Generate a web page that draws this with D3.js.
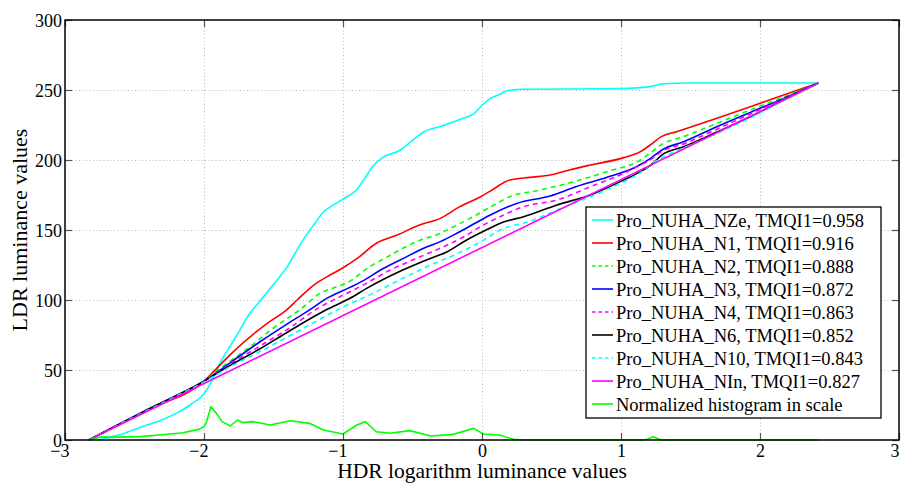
<!DOCTYPE html>
<html><head><meta charset="utf-8">
<script src="https://cdn.jsdelivr.net/npm/d3@7"></script>
<style>
html,body{margin:0;padding:0;background:#fff;}
svg{display:block;}
svg text{font-family:"Liberation Serif","Times New Roman",serif;}
</style></head>
<body><svg id="c" width="901" height="484"></svg>
<script>
// ---- data (x = HDR log luminance, y = LDR luminance) ----
const xTicks = [-3,-2,-1,0,1,2,3];
const yTicks = [0,50,100,150,200,250,300];
const legendLabels = [
  "Pro_NUHA_NZe, TMQI1=0.958",
  "Pro_NUHA_N1, TMQI1=0.916",
  "Pro_NUHA_N2, TMQI1=0.888",
  "Pro_NUHA_N3, TMQI1=0.872",
  "Pro_NUHA_N4, TMQI1=0.863",
  "Pro_NUHA_N6, TMQI1=0.852",
  "Pro_NUHA_N10, TMQI1=0.843",
  "Pro_NUHA_NIn, TMQI1=0.827",
  "Normalized histogram in scale"
];
const curveNZe = [[-2.76,0],[-2.7,1.5],[-2.6,4],[-2.5,7.5],[-2.4,11],[-2.3,14.5],[-2.2,19],[-2.1,25],[-2.0,33],[-1.95,41],[-1.9,52],[-1.85,61],[-1.8,69],[-1.75,77],[-1.7,86],[-1.6,99],[-1.5,111],[-1.4,124],[-1.3,141],[-1.2,155],[-1.14,163],[-1.1,166],[-1.0,172],[-0.9,179],[-0.85,186],[-0.78,196],[-0.71,202],[-0.59,207],[-0.5,214],[-0.42,220],[-0.3,224],[-0.16,229],[-0.06,233],[0.01,240],[0.06,244],[0.13,247],[0.18,249.5],[0.3,250.5],[1.0,251],[1.21,252.4],[1.3,254.5],[1.5,255],[2.42,255]];
const curveN1 = [[-2.83,0],[-2.4,22],[-2.0,42],[-1.91,51],[-1.79,63],[-1.55,83],[-1.405,93],[-1.33,100],[-1.21,110.7],[-1.09,118],[-1.0,123],[-0.9,129.5],[-0.76,140.5],[-0.61,146.4],[-0.45,153.6],[-0.3,158.3],[-0.16,166.7],[-0.01,173.8],[0.06,177.8],[0.2,185.7],[0.345,187.6],[0.49,189.3],[0.63,192.9],[0.78,196.4],[1.02,201.7],[1.14,206],[1.21,210.7],[1.29,216.7],[1.4,220.2],[1.69,229.8],[1.93,238],[2.17,246.4],[2.42,255]];
const curveN2 = [[-2.83,0],[-2.4,22],[-2.0,42],[-1.9,50],[-1.79,58],[-1.69,65],[-1.5,80],[-1.285,95],[-1.165,104.8],[-1.045,109.5],[-0.97,112.4],[-0.806,123.8],[-0.66,132],[-0.47,141.7],[-0.3,147.6],[-0.18,153.6],[-0.04,160.7],[0.08,167.5],[0.2,173.8],[0.42,178.6],[0.66,184.5],[0.9,191.7],[1.14,200],[1.21,205],[1.3,211.5],[1.45,216.7],[1.69,226.2],[1.93,235.7],[2.17,245],[2.42,255]];
const curveN3 = [[-2.83,0],[-2.4,22],[-2.0,42],[-1.8,56],[-1.6,70],[-1.4,83],[-1.24,93],[-1.12,101],[-0.95,109],[-0.85,114],[-0.73,121.4],[-0.54,131],[-0.42,137],[-0.3,141.7],[-0.16,148.8],[-0.01,157],[0.06,160.7],[0.25,169],[0.49,174.3],[0.68,181],[0.9,187.6],[1.11,195.2],[1.21,201],[1.3,207.5],[1.45,213],[1.69,223.8],[1.93,234],[2.17,244],[2.42,255]];
const curveN4 = [[-2.83,0],[-2.4,22],[-2.0,42],[-1.8,55],[-1.6,67],[-1.4,79],[-1.165,95],[-1.02,102.4],[-0.85,111],[-0.66,121.4],[-0.47,129.8],[-0.3,137],[-0.13,145.2],[0.01,153.6],[0.13,159.5],[0.3,166.7],[0.54,171.4],[0.78,181],[1.02,190.5],[1.14,196.4],[1.21,200],[1.3,206.5],[1.45,211.5],[1.69,222],[1.93,232.9],[2.17,243.5],[2.42,255]];
const curveN6 = [[-2.83,0],[-2.4,22],[-2.0,42],[-1.8,54],[-1.6,65],[-1.4,77],[-1.12,93],[-0.95,101.2],[-0.83,108.3],[-0.57,121.4],[-0.4,128.6],[-0.25,134.5],[-0.11,142.9],[0.03,150],[0.15,155.5],[0.3,159.5],[0.54,167.9],[0.78,175],[1.02,185.7],[1.14,191.7],[1.21,196],[1.3,204],[1.45,209.5],[1.69,220],[1.93,230.9],[2.17,242.9],[2.42,255]];
const curveN10 = [[-2.83,0],[-2.4,21.5],[-2.0,41.5],[-1.8,53],[-1.6,63],[-1.4,73.5],[-1.2,84.5],[-1.0,95],[-0.8,104],[-0.6,114],[-0.37,125],[-0.18,133],[-0.01,141.5],[0.13,150],[0.37,157],[0.54,164.3],[0.78,173.8],[1.02,184.5],[1.14,191],[1.21,196.5],[1.3,202],[1.45,208.5],[1.69,219],[1.93,230],[2.17,242.5],[2.42,255]];
const curveNIn = [[-2.83,0],[2.42,255]];
const histogram = [[-2.83,0],[-2.73,2.4],[-2.68,1.9],[-2.46,2.4],[-2.32,3.6],[-2.15,5.2],[-2.04,7.6],[-2.0,9.5],[-1.985,12],[-1.95,23.8],[-1.91,19],[-1.87,13.1],[-1.81,10],[-1.76,14.3],[-1.72,12.4],[-1.645,13.1],[-1.525,10.7],[-1.38,13.8],[-1.24,11.9],[-1.14,7.1],[-1.0,4.3],[-0.9,10.7],[-0.84,13.1],[-0.76,5.9],[-0.66,4.8],[-0.52,6.7],[-0.37,2.9],[-0.21,4.0],[-0.06,8.3],[0.01,4.3],[0.13,3.6],[0.225,0.5],[0.3,0],[1.15,0],[1.19,0.5],[1.23,2.4],[1.29,0],[2.42,0]];

const seriesData = [curveNZe,curveN1,curveN2,curveN3,curveN4,curveN6,curveN10,curveNIn,histogram];
const seriesColor = ["#00ffff","#ff0000","#00ff00","#0000ff","#ff00ff","#000000","#00ffff","#ff00ff","#00ff00"];
const seriesDash  = [null,null,"5,4",null,"5,4",null,"5,4",null,null];

// ---- layout ----
const FONT = "Liberation Serif, Times New Roman, serif";
const svg = d3.select("#c");
const L=65, R=899, T=20, B=440;
const x = d3.scaleLinear().domain([-3,3]).range([L,R]);
const y = d3.scaleLinear().domain([0,300]).range([B,T]);

svg.append("rect").attr("width",901).attr("height",484).attr("fill","#fff");

// grid
const grid = svg.append("g");
grid.selectAll(".gx").data(xTicks.slice(1,-1)).enter().append("line")
  .attr("x1",d=>x(d)+0.5).attr("x2",d=>x(d)+0.5).attr("y1",T).attr("y2",B)
  .attr("stroke","#b8b8b8").attr("stroke-width",1).attr("stroke-dasharray","1,2.5");
grid.selectAll(".gy").data(yTicks.slice(1,-1)).enter().append("line")
  .attr("y1",d=>y(d)+0.5).attr("y2",d=>y(d)+0.5).attr("x1",L).attr("x2",R)
  .attr("stroke","#b8b8b8").attr("stroke-width",1).attr("stroke-dasharray","1,2.5");

// curves
const line = d3.line().x(d=>x(d[0])).y(d=>y(d[1])).curve(d3.curveMonotoneX);
const hline = d3.line().x(d=>x(d[0])).y(d=>y(d[1])).curve(d3.curveLinear);
seriesData.forEach((s,i)=>{
  svg.append("path").datum(s)
    .attr("d", i===8 ? hline : line)
    .attr("fill","none").attr("stroke",seriesColor[i]).attr("stroke-width",1.6)
    .attr("stroke-dasharray",seriesDash[i]).attr("stroke-linejoin","round");
});

// axes (inward ticks on all four sides)
const fmt = d=> d<0 ? "\u2212"+Math.abs(d) : String(d);
const tl = 7;
const axB = svg.append("g").attr("transform",`translate(0,${B})`)
  .call(d3.axisBottom(x).tickValues(xTicks).tickSize(-tl).tickPadding(12).tickFormat(fmt));
const axT = svg.append("g").attr("transform",`translate(0,${T})`)
  .call(d3.axisTop(x).tickValues(xTicks).tickSize(-tl).tickFormat(""));
const axL = svg.append("g").attr("transform",`translate(${L},0)`)
  .call(d3.axisLeft(y).tickValues(yTicks).tickSize(-tl).tickPadding(3).tickFormat(d=>d));
const axR = svg.append("g").attr("transform",`translate(${R},0)`)
  .call(d3.axisRight(y).tickValues(yTicks).tickSize(-tl).tickFormat(""));
[axB,axT,axL,axR].forEach(a=>{
  a.attr("font-family",FONT).attr("font-size",18);
  a.select(".domain").remove();
  a.selectAll(".tick line").attr("stroke","#555").attr("stroke-width",1.2);
  a.selectAll("text").attr("font-family",FONT).attr("font-size",18).attr("fill","#000");
});
axB.selectAll(".tick text").attr("dy","0.71em").attr("y",4)
  .attr("text-anchor",d=> d<0 ? "end" : (d===3 ? "end" : "middle"))
  .attr("dx",d=> d<0 ? 4 : 0);
axL.selectAll(".tick text").attr("dy","0.34em");

// frame
svg.append("rect").attr("x",L).attr("y",T).attr("width",R-L).attr("height",B-T)
  .attr("fill","none").attr("stroke","#000").attr("stroke-width",1.5);

// axis titles
svg.append("text").attr("x",482).attr("y",478).attr("text-anchor","middle")
  .attr("font-family",FONT).attr("font-size",21.5).text("HDR logarithm luminance values");
svg.append("text").attr("transform","translate(27,230) rotate(-90)").attr("text-anchor","middle")
  .attr("font-family",FONT).attr("font-size",22).text("LDR luminance values");

// legend
const lg = svg.append("g").attr("font-family",FONT);
lg.append("rect").attr("x",586).attr("y",207).attr("width",295).attr("height",211)
  .attr("fill","#fff").attr("stroke","#000").attr("stroke-width",1.3);
legendLabels.forEach((t,i)=>{
  const cy = 220 + i*23;
  lg.append("line").attr("x1",592).attr("x2",613).attr("y1",cy).attr("y2",cy)
    .attr("stroke",seriesColor[i]).attr("stroke-width",1.6).attr("stroke-dasharray",seriesDash[i] ? "3.5,3" : null);
  lg.append("text").attr("x",616).attr("y",cy+6.5).attr("font-family",FONT).attr("font-size",18.5).text(t);
});
</script></body></html>
